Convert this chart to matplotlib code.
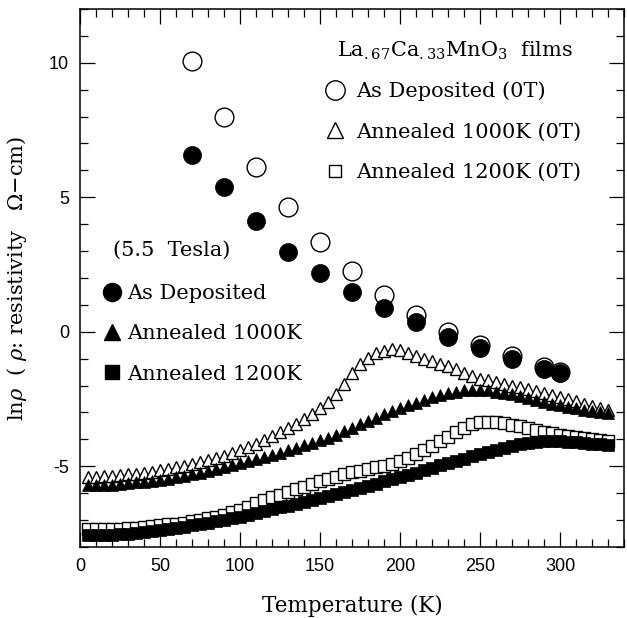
import matplotlib
matplotlib.use("Agg")
import matplotlib.pyplot as plt
from matplotlib.lines import Line2D
from matplotlib.ticker import MultipleLocator

plt.rcParams['axes.unicode_minus'] = False
plt.rcParams['mathtext.fontset'] = 'dejavuserif'

# --- data ---
temps = [5, 10, 15, 20, 25, 30, 35, 40, 45, 50,
         55, 60, 65, 70, 75, 80, 85, 90, 95, 100,
         105, 110, 115, 120, 125, 130, 135, 140, 145, 150,
         155, 160, 165, 170, 175, 180, 185, 190, 195, 200,
         205, 210, 215, 220, 225, 230, 235, 240, 245, 250,
         255, 260, 265, 270, 275, 280, 285, 290, 295, 300,
         305, 310, 315, 320, 325, 330]

# Annealed 1000K, 0T (open triangles)
ann1000_0T = [-5.38, -5.38, -5.37, -5.35, -5.33, -5.30, -5.27, -5.24, -5.20, -5.15,
              -5.10, -5.04, -4.98, -4.92, -4.85, -4.77, -4.68, -4.60, -4.50, -4.40,
              -4.29, -4.16, -4.03, -3.88, -3.74, -3.58, -3.42, -3.24, -3.04, -2.83,
              -2.60, -2.30, -1.95, -1.55, -1.20, -0.97, -0.80, -0.70, -0.65, -0.68,
              -0.78, -0.90, -1.01, -1.10, -1.19, -1.28, -1.40, -1.52, -1.63, -1.74,
              -1.81, -1.88, -1.95, -2.01, -2.07, -2.13, -2.19, -2.26, -2.34, -2.42,
              -2.51, -2.59, -2.68, -2.77, -2.85, -2.92]

# Annealed 1000K, 5.5 T (filled triangles)
ann1000_55T = [-5.70, -5.70, -5.69, -5.68, -5.66, -5.63, -5.60, -5.57, -5.54, -5.50,
               -5.46, -5.41, -5.36, -5.30, -5.24, -5.18, -5.11, -5.03, -4.96, -4.88,
               -4.81, -4.74, -4.66, -4.58, -4.49, -4.40, -4.31, -4.22, -4.13, -4.03,
               -3.93, -3.83, -3.70, -3.57, -3.44, -3.31, -3.19, -3.07, -2.96, -2.85,
               -2.74, -2.63, -2.52, -2.42, -2.34, -2.27, -2.22, -2.18, -2.16, -2.16,
               -2.18, -2.22, -2.27, -2.33, -2.40, -2.47, -2.54, -2.60, -2.67, -2.73,
               -2.79, -2.84, -2.89, -2.93, -2.98, -3.02]

# Annealed 1200K, 0T (open squares)
ann1200_0T = [-7.32, -7.33, -7.33, -7.33, -7.32, -7.30, -7.28, -7.25, -7.23, -7.20,
              -7.16, -7.13, -7.09, -7.05, -6.99, -6.94, -6.87, -6.80, -6.71, -6.62,
              -6.50, -6.35, -6.25, -6.15, -6.05, -5.95, -5.85, -5.76, -5.66, -5.56,
              -5.46, -5.38, -5.30, -5.22, -5.16, -5.10, -5.04, -4.98, -4.92, -4.82,
              -4.70, -4.55, -4.40, -4.25, -4.07, -3.90, -3.72, -3.56, -3.43, -3.37,
              -3.35, -3.36, -3.40, -3.46, -3.52, -3.58, -3.65, -3.72, -3.78, -3.83,
              -3.87, -3.91, -3.95, -4.00, -4.03, -4.06]

# Annealed 1200K, 5.5 T (filled squares)
ann1200_55T = [-7.56, -7.56, -7.55, -7.55, -7.53, -7.51, -7.48, -7.45, -7.41, -7.37,
               -7.33, -7.29, -7.24, -7.20, -7.16, -7.11, -7.05, -7.00, -6.94, -6.88,
               -6.81, -6.74, -6.67, -6.60, -6.53, -6.46, -6.39, -6.32, -6.25, -6.17,
               -6.10, -6.02, -5.95, -5.87, -5.80, -5.72, -5.64, -5.56, -5.48, -5.40,
               -5.32, -5.24, -5.15, -5.06, -4.97, -4.89, -4.80, -4.72, -4.63, -4.55,
               -4.47, -4.40, -4.32, -4.25, -4.19, -4.14, -4.10, -4.07, -4.06, -4.06,
               -4.08, -4.10, -4.13, -4.16, -4.19, -4.22]

# As deposited (circles)
temps_dep = [70, 90, 110, 130, 150, 170, 190, 210, 230, 250, 270, 290, 300]
dep_0T = [10.05, 7.98, 6.12, 4.64, 3.34, 2.26, 1.37, 0.63, 0.0, -0.48, -0.89, -1.30, -1.48]
dep_55T = [6.57, 5.38, 4.12, 2.97, 2.18, 1.48, 0.87, 0.37, -0.19, -0.59, -1.0, -1.37, -1.53]

labels_0T = ['As Deposited (0T)', 'Annealed 1000K (0T)', 'Annealed 1200K (0T)']
labels_55T = ['As Deposited', 'Annealed 1000K', 'Annealed 1200K']

serif = 'DejaVu Serif'
sans = 'Liberation Sans'

fig = plt.figure(figsize=(6.27, 6.18), dpi=100)
ax = fig.add_axes([0.1276, 0.1149, 0.8676, 0.8706])

# open symbols first, filled ones drawn on top
ax.plot(temps_dep, dep_0T, 'o', ms=13.5, mfc='white', mec='black', mew=1.0, ls='none')
ax.plot(temps_dep, dep_55T, 'o', ms=13, mfc='black', mec='black', mew=0.5, ls='none')
ax.plot(temps, ann1000_0T, '^', ms=8.5, mfc='white', mec='black', mew=1.0, ls='none')
ax.plot(temps, ann1000_55T, '^', ms=8.5, mfc='black', mec='black', mew=0.5, ls='none')
ax.plot(temps, ann1200_0T, 's', ms=8.5, mfc='white', mec='black', mew=1.0, ls='none')
ax.plot(temps, ann1200_55T, 's', ms=8.5, mfc='black', mec='black', mew=0.5, ls='none')

ax.set_xlim(0, 340)
ax.set_ylim(-8, 12)
ax.xaxis.set_major_locator(MultipleLocator(50))
ax.xaxis.set_minor_locator(MultipleLocator(10))
ax.yaxis.set_major_locator(MultipleLocator(5))
ax.yaxis.set_minor_locator(MultipleLocator(1))
ax.set_xticks([0, 50, 100, 150, 200, 250, 300])
ax.tick_params(which='both', direction='in', top=True, right=True, width=0.9)
ax.tick_params(which='major', length=11, labelsize=13, pad=8)
ax.tick_params(which='minor', length=5.5)
for lab in ax.get_xticklabels() + ax.get_yticklabels():
    lab.set_family(sans)
for sp in ax.spines.values():
    sp.set_linewidth(1.1)

ax.set_xlabel('Temperature (K)', family=serif, fontsize=15.5, labelpad=14)
ax.set_ylabel(r'ln$\rho$  ( $\rho$: resistivity   $\Omega$$-$cm)', family=serif,
              fontsize=15, labelpad=14)

# legend keys
h0 = [Line2D([], [], marker='o', ms=14, mfc='white', mec='black', mew=1.0, ls='none'),
      Line2D([], [], marker='^', ms=11, mfc='white', mec='black', mew=1.0, ls='none'),
      Line2D([], [], marker='s', ms=9, mfc='white', mec='black', mew=1.0, ls='none')]
h1 = [Line2D([], [], marker='o', ms=13, mfc='black', mec='black', ls='none'),
      Line2D([], [], marker='^', ms=11, mfc='black', mec='black', ls='none'),
      Line2D([], [], marker='s', ms=9.5, mfc='black', mec='black', ls='none')]

leg0 = ax.legend(h0, labels_0T, loc='upper left', bbox_to_anchor=(0.440, 0.8646),
                 frameon=False, borderpad=0, borderaxespad=0, handlelength=1.5,
                 handletextpad=0.25, labelspacing=1.02, prop={'family': serif, 'size': 15})
ax.add_artist(leg0)
ax.legend(h1, labels_55T, loc='upper left', bbox_to_anchor=(0.030, 0.4886),
          frameon=False, borderpad=0, borderaxespad=0, handlelength=1.5,
          handletextpad=0.0, labelspacing=1.02, prop={'family': serif, 'size': 15})

ax.text(0.4724, 0.922, r'La$_{.67}$Ca$_{.33}$MnO$_3$  films', transform=ax.transAxes,
        family=serif, fontsize=15, va='center', ha='left')
ax.text(0.0607, 0.552, '(5.5  Tesla)', transform=ax.transAxes,
        family=serif, fontsize=15, va='center', ha='left')

fig.savefig('out.png', dpi=100)
